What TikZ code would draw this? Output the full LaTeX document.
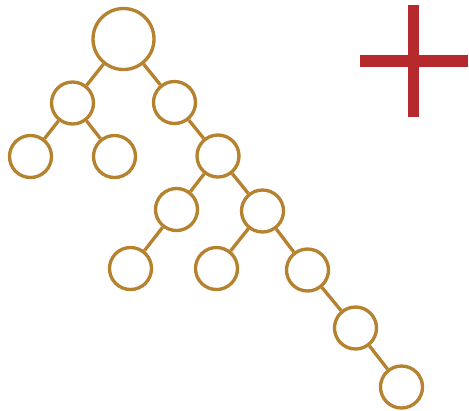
\documentclass[tikz,border=0pt]{standalone}
\usepackage{xcolor}
\usepackage{tikz}
\usetikzlibrary{positioning,calc}
\definecolor{treegold}{HTML}{B5822F}
\definecolor{plusred}{HTML}{B62A2E}

\begin{document}
\begin{tikzpicture}[x=0.02cm, y=-0.02cm,
  leaf/.style={circle, draw=treegold, line width=1.9pt, minimum size=0.84cm, inner sep=0pt},
  edge/.style={draw=treegold, line width=1.9pt}]
\useasboundingbox (0,0) rectangle (469,410);
\node[leaf, minimum size=1.22cm] (root) at (123.5,39) {};
\node[leaf] (a) at (72.5,103) {};
\node[leaf] (b) at (174.5,102.5) {};
\node[leaf] (aa) at (30.5,156.5) {};
\node[leaf] (ab) at (114.5,156.5) {};
\node[leaf] (bb) at (218,156) {};
\node[leaf] (bba) at (176.5,209.5) {};
\node[leaf] (bbb) at (262.5,211) {};
\node[leaf] (bbaa) at (130.5,268.5) {};
\node[leaf] (bbba) at (216.5,268.5) {};
\node[leaf] (bbbb) at (307.5,270) {};
\node[leaf] (bbbbb) at (355.5,328) {};
\node[leaf] (bbbbbb) at (401.5,387) {};
\draw[edge] (root) -- (a);
\draw[edge] (root) -- (b);
\draw[edge] (a) -- (aa);
\draw[edge] (a) -- (ab);
\draw[edge] (b) -- (bb);
\draw[edge] (bb) -- (bba);
\draw[edge] (bb) -- (bbb);
\draw[edge] (bba) -- (bbaa);
\draw[edge] (bbb) -- (bbba);
\draw[edge] (bbb) -- (bbbb);
\draw[edge] (bbbb) -- (bbbbb);
\draw[edge] (bbbbb) -- (bbbbbb);
% plus sign
\fill[plusred] (360,55.2) rectangle (467.7,66.8);
\fill[plusred] (407.7,5) rectangle (419.3,116.7);
\end{tikzpicture}
\end{document}
